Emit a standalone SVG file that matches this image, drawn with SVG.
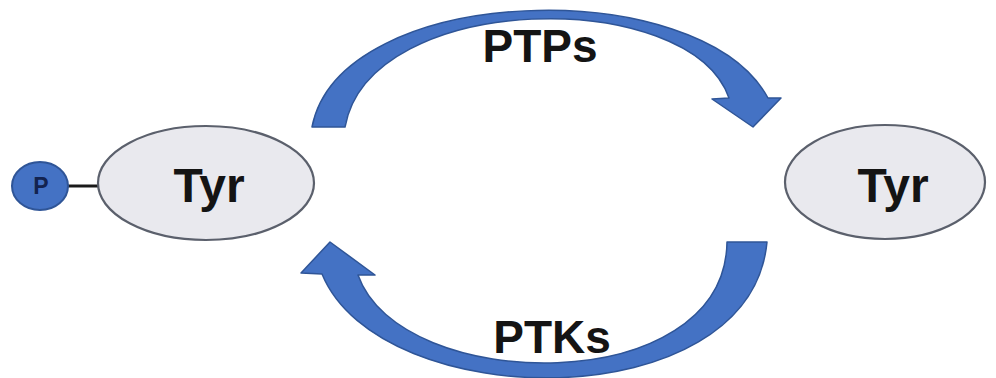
<svg xmlns="http://www.w3.org/2000/svg" width="996" height="378" viewBox="0 0 996 378">
<style>
.node{fill:#e9e9ee;stroke:#5b606c;stroke-width:2.2}
.lbl{font-family:"Liberation Sans",Arial,sans-serif;font-weight:bold;fill:#141414;text-anchor:middle}
.arr{fill:#4472c4;stroke:#2f5597;stroke-width:1.5;stroke-linejoin:round}
</style>
<rect width="996" height="378" fill="#ffffff"/>
<g id="connectors">
<path class="arr" d="M312,127 C340,-18 700,-28 768,98 L781,98 L753,127 L712,99 L729,98 C690,-14 370,-10 345,127 Z"/>
<path class="arr" d="M767,242 C750,420 380,415 322,274 L301,273 L330,242 L375,275 L358,275 C400,395 725,400 727,242 Z"/>
<line x1="66" y1="186" x2="98" y2="186" stroke="#1a1a1a" stroke-width="3"/>
</g>
<g id="node-ptyr">
<ellipse class="node" cx="206" cy="183" rx="108" ry="57"/>
<text class="lbl" x="209" y="202" font-size="48">Tyr</text>
</g>
<g id="node-p">
<ellipse cx="40" cy="186" rx="28" ry="24" fill="#4472c4" stroke="#2f5597" stroke-width="2"/>
<text class="lbl" x="41" y="194" font-size="23" style="fill:#13234f">P</text>
</g>
<g id="node-tyr">
<ellipse class="node" cx="885" cy="182" rx="100" ry="57"/>
<text class="lbl" x="893" y="202" font-size="48">Tyr</text>
</g>
<g id="labels">
<text class="lbl" x="540" y="62" font-size="46">PTPs</text>
<text class="lbl" x="552" y="353" font-size="46">PTKs</text>
</g>
</svg>
